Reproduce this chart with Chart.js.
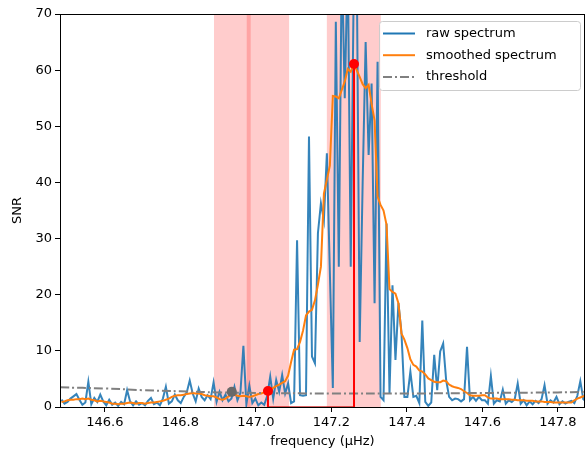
<!DOCTYPE html>
<html>
<head>
<meta charset="utf-8">
<script src="https://cdn.jsdelivr.net/npm/chart.js@4.4.1/dist/chart.umd.min.js"></script>
<style>
  html, body { margin: 0; padding: 0; background: #fff; }
  #wrap { width: 585px; height: 455px; }
</style>
</head>
<body>
<div id="wrap"><canvas id="chart" width="585" height="455"></canvas></div>
<script>
// Spectrum bins (frequency grid in µHz)
const freqStart = 146.485;
const freqStep = 0.0079;

const rawSNR = [
  1.3, 0.6, 0.9, 1.5, 1.9, 2.3, 1.3, 0.4, 0.8, 4.5,
  0.5, 1.6, 0.9, 2.2, 1.0, 0.3, 1.3, 0.4, 0.8, 0.2,
  0.9, 0.5, 3.0, 1.0, 0.3, 1.0, 0.4, 0.7, 0.3, 1.1,
  1.6, 0.5, 0.8, 0.3, 1.5, 3.6, 0.6, 1.0, 2.2, 1.2,
  0.7, 1.8, 2.6, 4.7, 2.4, 1.0, 3.3, 1.8, 1.2, 2.1,
  1.4, 4.4, 0.9, 2.7, 1.2, 2.2, 1.0, 1.5, 3.6, 1.2,
  2.5, 10.9, 0.5, 3.8, 0.7, 1.5, 0.3, 0.8, 0.4, 2.0,
  5.4, 1.5, 4.8, 2.7, 5.7, 2.4, 4.2, 0.7, 1.0, 29.7,
  2.1, 2.0, 2.1, 48.2, 9.0, 7.8, 31.0, 36.3, 33.3, 45.2,
  24.0, 3.4, 68.6, 25.0, 80.0, 55.0, 80.0, 25.0, 75.0, 80.0,
  11.6, 40.0, 65.0, 44.9, 57.6, 18.5, 61.5, 1.8, 1.2, 32.7,
  2.4, 21.7, 8.4, 18.5, 13.4, 1.8, 1.8, 6.3, 1.8, 2.0,
  0.7, 15.4, 0.9, 0.2, 0.8, 9.3, 3.0, 9.9, 11.3, 4.8,
  1.8, 1.2, 1.5, 1.4, 1.0, 1.4, 10.7, 1.2, 1.8, 1.1,
  1.8, 1.2, 1.2, 0.6, 5.5, 0.6, 1.2, 1.0, 3.1, 0.6,
  1.2, 0.9, 1.4, 4.2, 0.6, 1.2, 0.3, 1.0, 0.5, 1.1,
  0.7, 1.4, 3.9, 0.6, 1.2, 0.8, 1.8, 0.5, 1.0, 0.6,
  0.9, 1.1, 0.7, 2.0, 4.6, 1.4, 1.0
];

const smoothSNR = [
  0.9, 1.0, 1.2, 1.3, 1.3, 1.4, 1.4, 1.5, 1.4, 1.5,
  1.3, 1.2, 1.0, 1.1, 1.0, 0.9, 0.8, 0.6, 0.6, 0.5,
  0.6, 0.6, 0.7, 0.8, 0.7, 0.6, 0.7, 0.7, 0.6, 0.7,
  0.8, 0.8, 0.9, 1.0, 1.1, 1.3, 1.5, 1.8, 2.0, 2.1,
  2.1, 2.2, 2.3, 2.4, 2.5, 2.4, 2.4, 2.3, 2.1, 2.0,
  1.9, 1.9, 1.7, 1.4, 1.3, 1.5, 1.9, 2.2, 2.2, 2.0,
  1.9, 2.0, 1.9, 1.8, 1.9, 2.1, 2.3, 2.4, 2.6, 2.8,
  3.0, 3.4, 3.7, 4.0, 4.3, 4.6, 5.6, 8.0, 10.2, 10.3,
  11.6, 13.6, 16.3, 17.0, 17.3, 19.0, 21.8, 25.0, 38.0, 40.5,
  43.0, 55.4, 55.3, 55.0, 56.5, 58.0, 60.2, 59.7, 61.1, 60.0,
  58.8, 57.5, 56.8, 57.4, 54.0, 51.0, 37.5, 36.0, 35.0, 32.5,
  21.0, 20.5, 20.2, 18.5, 13.1, 12.0, 10.5, 8.5, 7.5, 7.2,
  6.5, 6.3, 5.8, 5.1, 4.8, 4.5, 4.4, 4.4, 4.7, 4.6,
  4.0, 3.7, 3.5, 3.4, 3.2, 2.8, 2.5, 2.1, 2.0, 2.0,
  2.0, 2.1, 2.1, 1.7, 1.5, 1.5, 1.5, 1.4, 1.4, 1.4,
  1.4, 1.3, 1.3, 1.2, 1.2, 1.2, 1.1, 1.1, 1.1, 1.0,
  1.0, 1.0, 0.9, 0.9, 0.9, 0.8, 0.8, 0.8, 0.8, 0.8,
  0.8, 0.8, 1.2, 1.5, 1.7, 1.9, 2.0
];

const thresholdFreq = [146.481, 146.6, 146.7, 146.8, 146.9, 147.0, 147.2, 147.4, 147.6, 147.8, 147.872];
const thresholdSNR = [3.5, 3.3, 3.0, 2.8, 2.6, 2.5, 2.4, 2.4, 2.5, 2.6, 2.7];

// Shaded search windows and highlighted frequency
const bandStart = [146.889, 147.188];
const bandEnd = [147.088, 147.331];
const highlightFreq = 146.981;

// Detected points
const peakFreq = 147.26, peakSNR = 61.1;
const edgeFreq = 147.032, edgeSNR = 2.85;
const crossFreq = 146.936, crossSNR = 2.7;

const xTicks = [146.6, 146.8, 147.0, 147.2, 147.4, 147.6, 147.8];
const yTicks = [0, 10, 20, 30, 40, 50, 60, 70];

const legendItems = [
  { label: "raw spectrum", color: "#1f77b4", dash: [] },
  { label: "smoothed spectrum", color: "#ff7f0e", dash: [] },
  { label: "threshold", color: "#808080", dash: [9, 3, 2, 3] },
];

const FONT = "'DejaVu Sans', sans-serif";

function toPoints(values) {
  return values.map((v, i) => ({ x: freqStart + i * freqStep, y: v }));
}

const bandsPlugin = {
  id: "bands",
  beforeDatasetsDraw(chart) {
    const { ctx, chartArea, scales } = chart;
    const x = scales.x;
    ctx.save();
    ctx.fillStyle = "rgba(255, 0, 0, 0.2)";
    for (let i = 0; i < bandStart.length; i++) {
      const x0 = x.getPixelForValue(bandStart[i]);
      const x1 = x.getPixelForValue(bandEnd[i]);
      ctx.fillRect(x0, chartArea.top, x1 - x0, chartArea.bottom - chartArea.top);
    }
    // highlighted frequency stripe
    ctx.strokeStyle = "rgba(255, 0, 0, 0.2)";
    ctx.lineWidth = 4;
    const hx = x.getPixelForValue(highlightFreq);
    ctx.beginPath();
    ctx.moveTo(hx, chartArea.top);
    ctx.lineTo(hx, chartArea.bottom);
    ctx.stroke();
    ctx.restore();
  },
};

const framePlugin = {
  id: "frame",
  afterDraw(chart) {
    const { ctx, chartArea } = chart;
    ctx.save();
    ctx.strokeStyle = "#000";
    ctx.lineWidth = 1;
    ctx.strokeRect(
      Math.round(chartArea.left) + 0.5,
      Math.round(chartArea.top) + 0.5,
      Math.round(chartArea.right - chartArea.left) - 1,
      Math.round(chartArea.bottom - chartArea.top)
    );

    // legend box
    const bx = 379.5, by = 21.5, bw = 201, bh = 69, r = 3;
    ctx.beginPath();
    ctx.moveTo(bx + r, by);
    ctx.arcTo(bx + bw, by, bx + bw, by + bh, r);
    ctx.arcTo(bx + bw, by + bh, bx, by + bh, r);
    ctx.arcTo(bx, by + bh, bx, by, r);
    ctx.arcTo(bx, by, bx + bw, by, r);
    ctx.closePath();
    ctx.fillStyle = "rgba(255, 255, 255, 0.8)";
    ctx.fill();
    ctx.strokeStyle = "#cccccc";
    ctx.stroke();

    ctx.font = "13px " + FONT;
    ctx.textBaseline = "middle";
    legendItems.forEach((item, i) => {
      const y = 33.5 + i * 21.7;
      ctx.strokeStyle = item.color;
      ctx.lineWidth = 2;
      ctx.setLineDash(item.dash);
      ctx.beginPath();
      ctx.moveTo(383, y);
      ctx.lineTo(415, y);
      ctx.stroke();
      ctx.setLineDash([]);
      ctx.fillStyle = "#000";
      ctx.fillText(item.label, 426, y);
    });
    ctx.restore();
  },
};

new Chart(document.getElementById("chart"), {
  type: "scatter",
  data: {
    datasets: [
      {
        label: "peak",
        data: [
          { x: peakFreq, y: 0 },
          { x: peakFreq, y: peakSNR },
        ],
        showLine: true,
        borderColor: "#ff0000",
        borderWidth: 2,
        pointRadius: [0, 5],
        pointBackgroundColor: "#ff0000",
        pointBorderWidth: 0,
        order: 0,
      },
      {
        label: "edge",
        data: [
          { x: edgeFreq, y: 0 },
          { x: edgeFreq, y: edgeSNR },
        ],
        showLine: true,
        borderColor: "#ff0000",
        borderWidth: 2,
        pointRadius: [0, 5],
        pointBackgroundColor: "#ff0000",
        pointBorderWidth: 0,
        order: 0,
      },
      {
        label: "base",
        data: [
          { x: edgeFreq, y: 0 },
          { x: peakFreq, y: 0 },
        ],
        showLine: true,
        borderColor: "rgba(200, 0, 0, 0.8)",
        borderWidth: 1.5,
        pointRadius: 0,
        order: 0,
      },
      {
        label: "crossing",
        data: [{ x: crossFreq, y: crossSNR }],
        pointRadius: 5,
        pointBackgroundColor: "#696969",
        pointBorderWidth: 0,
        order: 0,
      },
      {
        label: "threshold",
        data: thresholdFreq.map((f, i) => ({ x: f, y: thresholdSNR[i] })),
        showLine: true,
        borderColor: "#808080",
        borderWidth: 2,
        borderDash: [9, 3, 2, 3],
        pointRadius: 0,
        tension: 0.4,
        order: 1,
      },
      {
        label: "smoothed spectrum",
        data: toPoints(smoothSNR),
        showLine: true,
        borderColor: "#ff7f0e",
        borderWidth: 2,
        pointRadius: 0,
        order: 2,
      },
      {
        label: "raw spectrum",
        data: toPoints(rawSNR),
        showLine: true,
        borderColor: "rgba(31, 119, 180, 0.9)",
        borderWidth: 2,
        pointRadius: 0,
        clip: 0,
        order: 3,
      },
    ],
  },
  options: {
    responsive: false,
    animation: false,
    layout: {
      autoPadding: false,
      padding: { top: 14, right: 0, left: 0, bottom: 0 },
    },
    plugins: {
      legend: { display: false },
      tooltip: { enabled: false },
    },
    scales: {
      x: {
        type: "linear",
        min: 146.481,
        max: 147.872,
        afterBuildTicks: (scale) => {
          scale.ticks = xTicks.map((v) => ({ value: v }));
        },
        afterFit: (scale) => {
          scale.height = 48;
          scale.paddingLeft = 0;
          scale.paddingRight = 0;
        },
        ticks: {
          color: "#000",
          font: { family: FONT, size: 13 },
          padding: 3,
          maxRotation: 0,
          callback: (v) => v.toFixed(1),
        },
        grid: {
          drawOnChartArea: false,
          drawTicks: true,
          tickLength: 5,
          color: "#000",
        },
        border: { display: false },
        title: {
          display: true,
          text: "frequency (μHz)",
          color: "#000",
          font: { family: FONT, size: 13 },
          padding: { top: 0, bottom: 6 },
        },
      },
      y: {
        min: 0,
        max: 70,
        afterBuildTicks: (scale) => {
          scale.ticks = yTicks.map((v) => ({ value: v }));
        },
        afterFit: (scale) => {
          scale.width = 60;
          scale.paddingTop = 0;
          scale.paddingBottom = 0;
        },
        ticks: {
          color: "#000",
          font: { family: FONT, size: 13 },
          padding: 3,
        },
        grid: {
          drawOnChartArea: false,
          drawTicks: true,
          tickLength: 5,
          color: "#000",
        },
        border: { display: false },
        title: {
          display: true,
          text: "SNR",
          color: "#000",
          font: { family: FONT, size: 13 },
          padding: { top: 10, bottom: 0 },
        },
      },
    },
  },
  plugins: [bandsPlugin, framePlugin],
});
</script>
</body>
</html>
